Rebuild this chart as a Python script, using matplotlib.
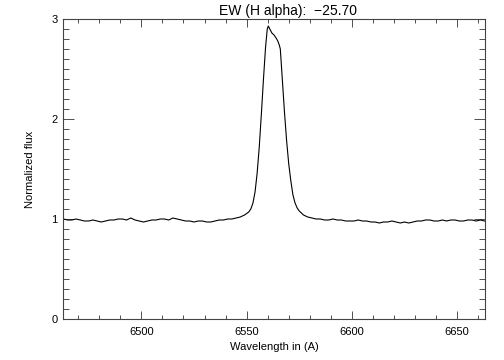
import matplotlib
matplotlib.use("Agg")
import matplotlib.pyplot as plt
from matplotlib.ticker import MultipleLocator

title_text = "EW (H alpha):  \u221225.70"
x_label = "Wavelength in (A)"
y_label = "Normalized flux"

wavelength = [
    6463, 6465, 6467, 6469, 6471, 6473, 6475, 6477, 6479, 6481,
    6483, 6485, 6487, 6489, 6491, 6493, 6495, 6497, 6499, 6501,
    6503, 6505, 6507, 6509, 6511, 6513, 6515, 6517, 6519, 6521,
    6523, 6525, 6527, 6529, 6531, 6533, 6535, 6537, 6539, 6541,
    6543, 6545, 6547, 6549, 6551, 6552, 6553, 6554, 6555, 6556,
    6557, 6558, 6559, 6559.8, 6560.3, 6561, 6562, 6563, 6564, 6564.8,
    6565.5, 6566, 6567, 6568, 6569, 6570, 6571, 6572, 6573, 6574,
    6575, 6577, 6579, 6581, 6583, 6585, 6587, 6589, 6591, 6593,
    6595, 6597, 6599, 6601, 6603, 6605, 6607, 6609, 6611, 6613,
    6615, 6617, 6619, 6621, 6623, 6625, 6627, 6629, 6631, 6633,
    6635, 6637, 6639, 6641, 6643, 6645, 6647, 6649, 6651, 6653,
    6655, 6657, 6659, 6661, 6663,
]
flux = [
    1.00, 0.99, 0.99, 1.00, 0.99, 0.98, 0.98, 0.99, 0.98, 0.97,
    0.98, 0.99, 0.99, 1.00, 1.00, 0.99, 1.01, 0.99, 0.98, 0.97,
    0.98, 0.99, 0.99, 1.00, 1.00, 0.99, 1.01, 1.00, 0.99, 0.98,
    0.98, 0.97, 0.98, 0.98, 0.97, 0.97, 0.98, 0.99, 0.99, 1.00,
    1.00, 1.01, 1.02, 1.04, 1.07, 1.10, 1.16, 1.27, 1.46, 1.72,
    2.05, 2.40, 2.72, 2.90, 2.93, 2.90, 2.86, 2.84, 2.81, 2.78,
    2.74, 2.70, 2.38, 2.06, 1.78, 1.55, 1.38, 1.24, 1.16, 1.11,
    1.08, 1.04, 1.02, 1.01, 1.00, 1.00, 0.99, 0.99, 1.00, 0.99,
    0.99, 0.98, 0.98, 0.98, 0.99, 0.98, 0.98, 0.97, 0.97, 0.96,
    0.97, 0.97, 0.98, 0.97, 0.96, 0.97, 0.96, 0.97, 0.98, 0.98,
    0.99, 0.99, 0.98, 0.98, 0.99, 0.98, 0.99, 0.99, 0.98, 0.98,
    0.99, 0.99, 0.98, 0.99, 0.98,
]

plt.rcParams['font.family'] = ['Liberation Sans', 'DejaVu Sans']
fig = plt.figure(figsize=(5.04, 3.6), dpi=100)
ax = fig.add_axes([63/504, 41/360, 422/504, 300/360])
ax.plot(wavelength, flux, color='black', lw=0.8)
ax.set_xlim(6462.8, 6663.2)
ax.set_ylim(0, 3)
ax.xaxis.set_major_locator(MultipleLocator(50))
ax.xaxis.set_minor_locator(MultipleLocator(10))
ax.yaxis.set_major_locator(MultipleLocator(1))
ax.yaxis.set_minor_locator(MultipleLocator(0.1))
ax.tick_params(which='both', direction='in', top=True, right=True, labelsize=8, width=0.6, color='#333333')
ax.tick_params(axis='x', which='major', length=6, pad=6)
ax.tick_params(axis='x', which='minor', length=3)
ax.tick_params(axis='y', which='major', length=8, pad=4)
ax.tick_params(axis='y', which='minor', length=4)
for s in ax.spines.values():
    s.set_linewidth(0.8)
    s.set_color('#444444')
ax.set_xlabel(x_label, fontsize=8, labelpad=3)
ax.set_ylabel(y_label, fontsize=8, labelpad=12)
fig.text(288/504, 1 - 11/360, title_text, fontsize=10, ha='center', va='center')
fig.savefig('out.png', dpi=100)
